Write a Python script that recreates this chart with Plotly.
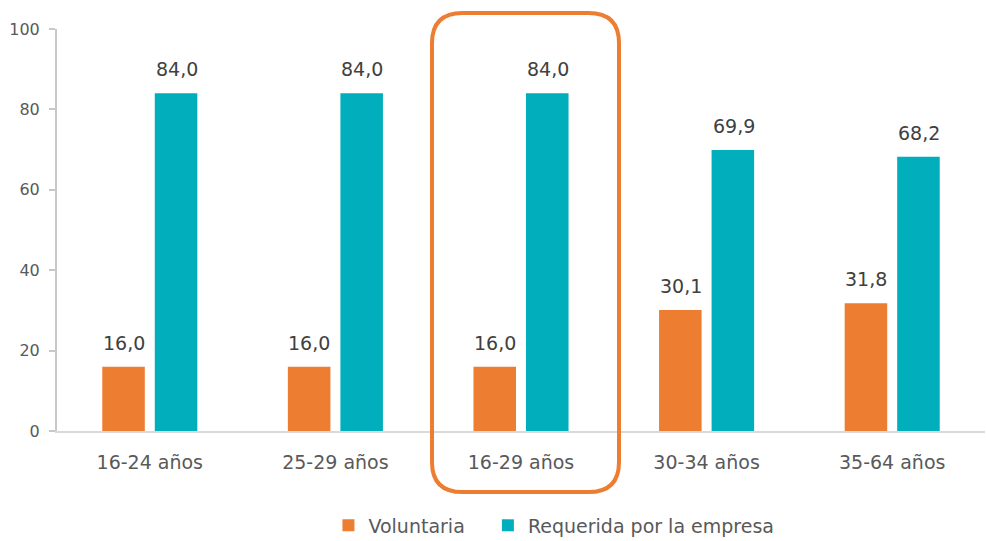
import plotly.graph_objects as go

# data
categories = ['16-24 años', '25-29 años', '16-29 años', '30-34 años', '35-64 años']
voluntaria = [16.0, 16.0, 16.0, 30.1, 31.8]
requerida = [84.0, 84.0, 84.0, 69.9, 68.2]
y_ticks = [0, 20, 40, 60, 80, 100]

ORANGE = '#ED7D31'
TEAL = '#00AFBB'
FONT = 'DejaVu Sans'


def fmt(v):
    return f'{v:.1f}'.replace('.', ',')


fig = go.Figure()
# trailing non-breaking spaces widen the gap between legend entries
fig.add_trace(go.Bar(x=categories, y=voluntaria, name='Voluntaria\u00a0\u00a0\u00a0',
                     marker=dict(color=ORANGE, line=dict(width=0))))
fig.add_trace(go.Bar(x=categories, y=requerida, name='Requerida por la empresa',
                     marker=dict(color=TEAL, line=dict(width=0))))

# value labels above each bar
annotations = []
for cat, v in zip(categories, voluntaria):
    annotations.append(dict(x=cat, y=v, xref='x', yref='y', text=fmt(v), showarrow=False,
                            xshift=-26, yshift=24, font=dict(size=19, color='#404040', family=FONT)))
for cat, v in zip(categories, requerida):
    annotations.append(dict(x=cat, y=v, xref='x', yref='y', text=fmt(v), showarrow=False,
                            xshift=27, yshift=24, font=dict(size=19, color='#404040', family=FONT)))

# rounded highlight box around the 16-29 group (paper coords)
x0, x1 = 0.4041, 0.6056
y0, y1 = -0.152, 1.04
rx, ry = 0.033, 0.075
path = (f'M {x0 + rx},{y1} L {x1 - rx},{y1} Q {x1},{y1} {x1},{y1 - ry} '
        f'L {x1},{y0 + ry} Q {x1},{y0} {x1 - rx},{y0} '
        f'L {x0 + rx},{y0} Q {x0},{y0} {x0},{y0 + ry} '
        f'L {x0},{y1 - ry} Q {x0},{y1} {x0 + rx},{y1} Z')

fig.update_layout(
    width=986, height=541,
    margin=dict(l=57, r=1, t=29, b=110, autoexpand=False),
    plot_bgcolor='white', paper_bgcolor='white',
    barmode='group', bargap=0.434, bargroupgap=0.19,
    font=dict(family=FONT, color='#595959'),
    showlegend=True,
    legend=dict(orientation='h', x=0.2925, xanchor='left', y=-0.235, yanchor='middle',
                font=dict(size=19, color='#595959', family=FONT), itemwidth=30,
                traceorder='normal'),
    xaxis=dict(showgrid=False, showline=True, linecolor='#D9D9D9', linewidth=2,
               ticks='', ticklabelstandoff=13,
               tickfont=dict(size=19, color='#595959', family=FONT)),
    yaxis=dict(range=[0, 100], tickvals=y_ticks, showgrid=False, zeroline=False,
               showline=True, linecolor='#C8C8C8', linewidth=2,
               ticks='outside', ticklen=6, tickcolor='#C8C8C8', tickwidth=2,
               ticklabelstandoff=6,
               tickfont=dict(size=16, color='#595959', family=FONT)),
    annotations=annotations,
    shapes=[dict(type='path', path=path, xref='paper', yref='paper',
                 line=dict(color=ORANGE, width=4), fillcolor='rgba(0,0,0,0)')],
)

# drop the default page margin so the figure sits at the window origin
fig.write_html('out.html', config={'displayModeBar': False},
               post_script="document.body.style.margin='0';")
